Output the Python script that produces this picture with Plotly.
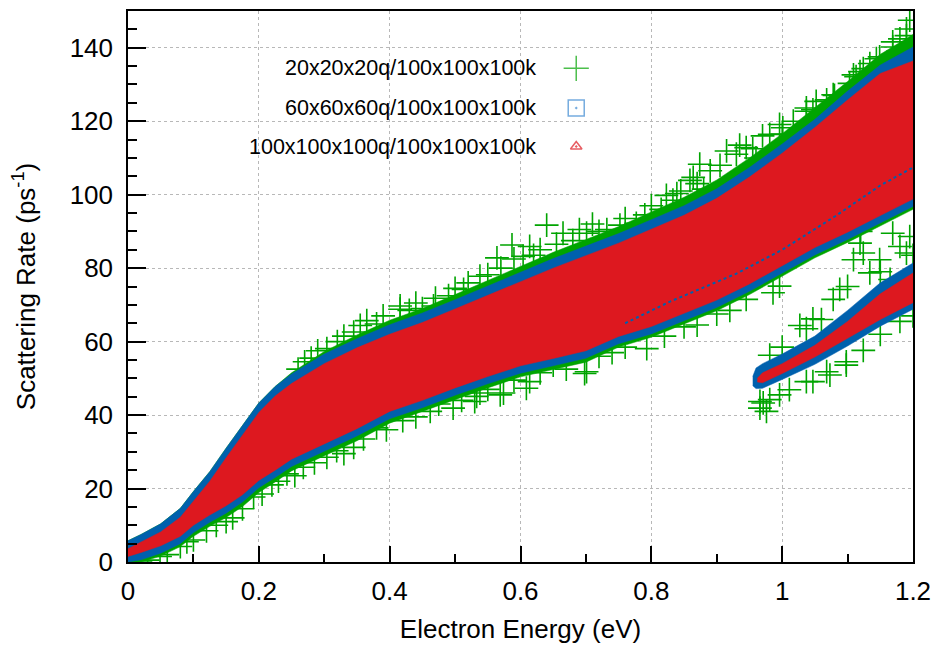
import plotly.graph_objects as go

# main branch envelopes
x_main = [0.0, 0.02, 0.05, 0.08, 0.1, 0.125, 0.15, 0.175, 0.2, 0.225, 0.25, 0.3, 0.35, 0.4,
          0.45, 0.5, 0.55, 0.6, 0.65, 0.7, 0.75, 0.8, 0.85, 0.9, 0.95, 1.0, 1.05, 1.1, 1.15, 1.2]
green_up = [5.8, 7.5, 10.4, 14.6, 19.2, 24.6, 31.0, 37.2, 43.3, 47.8, 51.5, 57.3, 61.8, 65.8,
            69.0, 72.8, 76.6, 80.6, 84.3, 87.8, 91.3, 95.3, 99.3, 104.0, 110.0, 116.6, 123.6, 130.8, 138.2, 143.6]
blue_up = [5.8, 7.5, 10.4, 14.6, 19.2, 24.6, 31.0, 37.2, 43.3, 47.8, 51.2, 56.6, 60.8, 64.6,
           67.8, 71.4, 75.2, 79.0, 82.6, 86.0, 89.4, 93.2, 97.0, 101.6, 107.4, 113.8, 120.5, 128.2, 135.3, 140.2]
red_up = [3.6, 5.4, 8.2, 12.2, 16.7, 22.0, 28.4, 34.6, 40.7, 45.2, 48.6, 54.0, 58.3, 62.0,
          65.2, 68.9, 72.6, 76.4, 80.0, 83.4, 86.8, 90.6, 94.4, 99.0, 104.8, 111.3, 118.3, 125.8, 133.0, 136.4]
red_lo = [1.5, 2.6, 4.4, 7.0, 10.0, 12.8, 15.3, 18.3, 22.2, 25.0, 28.0, 32.2, 36.3, 41.0,
          44.0, 47.4, 50.5, 53.4, 55.4, 57.5, 61.4, 64.1, 67.8, 71.3, 75.7, 80.7, 85.6, 89.8, 94.3, 98.8]
blue_lo = [0.0, 0.6, 2.4, 5.0, 8.0, 10.8, 13.3, 16.3, 20.2, 23.0, 26.0, 30.2, 34.3, 39.0,
           42.0, 45.4, 48.5, 51.4, 53.4, 55.5, 59.4, 62.1, 65.8, 69.3, 73.7, 78.7, 83.6, 87.8, 92.3, 96.8]
green_lo = [0.0, 0.0, 1.6, 4.2, 7.0, 9.7, 12.1, 15.1, 18.9, 21.8, 24.8, 29.0, 33.0, 37.8,
            40.8, 44.2, 47.4, 50.4, 52.4, 54.4, 58.5, 61.2, 64.9, 68.4, 72.8, 77.8, 82.8, 87.0, 91.5, 96.0]

# second (upper-energy) branch
x_b2 = [0.955, 0.96, 0.97, 1.0, 1.05, 1.1, 1.15, 1.2]
blue_up2 = [50.5, 52.8, 54.0, 56.6, 61.5, 68.5, 76.0, 81.4]
blue_lo2 = [48.0, 47.2, 47.3, 49.7, 53.8, 58.8, 64.2, 68.8]
x_b2r = [0.962, 0.97, 1.0, 1.05, 1.1, 1.15, 1.2]
red_up2 = [50.0, 51.5, 54.0, 59.0, 65.5, 73.0, 78.7]
red_lo2 = [49.0, 48.8, 51.3, 55.8, 60.8, 66.0, 70.6]

# faint seam of blue points inside the red band
seam_x = [0.76, 0.83, 0.93, 1.0, 1.08, 1.15, 1.2]
seam_y = [65.0, 71.0, 78.5, 85.0, 94.0, 102.5, 107.4]

# stray 20x20x20q points: above the main band
up_x = [0.26, 0.27, 0.28, 0.29, 0.304, 0.32, 0.33, 0.345, 0.355, 0.365, 0.38, 0.39, 0.416, 0.416,
        0.43, 0.44, 0.45, 0.467, 0.47, 0.49, 0.50, 0.513, 0.52, 0.538, 0.55, 0.564, 0.57, 0.587,
        0.59, 0.604, 0.614, 0.62, 0.63, 0.640, 0.655, 0.665, 0.68, 0.69, 0.701, 0.71, 0.72, 0.732,
        0.752, 0.76, 0.777, 0.79, 0.80, 0.815, 0.823, 0.833, 0.839, 0.845, 0.859, 0.864, 0.87,
        0.874, 0.88, 0.89, 0.905, 0.915, 0.930, 0.935, 0.945, 0.955, 0.96, 0.97, 0.981, 0.996,
        1.0, 1.001, 1.017, 1.037, 1.037, 1.047, 1.052, 1.068, 1.078, 1.08, 1.103, 1.109, 1.113,
        1.119, 1.124, 1.134, 1.144, 1.149, 1.16, 1.169, 1.169, 1.18, 1.19, 1.19, 1.195]
up_y = [52.5, 54.5, 55.5, 57.5, 58.1, 60.0, 61.5, 62.6, 64.4, 65.7, 64.8, 67.0, 68.8, 69.7,
        68.5, 70.5, 69.0, 69.7, 71.8, 72.5, 74.5, 74.2, 76.0, 77.8, 78.2, 82.8, 80.0, 86.3,
        82.5, 83.2, 85.9, 83.5, 85.0, 91.7, 86.5, 89.5, 87.5, 90.5, 89.5, 92.0, 90.0, 90.5,
        91.7, 93.5, 92.2, 94.5, 97.0, 96.0, 99.8, 98.5, 100.3, 101.0, 103.9, 104.7, 103.0,
        108.3, 101.5, 106.5, 108.0, 111.9, 111.0, 113.5, 112.8, 112.5, 110.0, 116.0, 116.4, 119.1,
        116.5, 118.2, 120.0, 122.7, 123.6, 123.1, 125.4, 125.8, 127.2, 127.0, 130.3, 132.6, 132.1,
        133.5, 134.3, 135.7, 137.0, 137.5, 136.0, 140.2, 141.6, 142.4, 143.3, 145.1, 147.5]

# below the main band
lo_x = [0.019, 0.03, 0.049, 0.06, 0.08, 0.09, 0.10, 0.12, 0.135, 0.15, 0.16, 0.175, 0.192,
        0.205, 0.22, 0.23, 0.243, 0.255, 0.268, 0.285, 0.304, 0.319, 0.33, 0.345, 0.36, 0.380,
        0.395, 0.42, 0.44, 0.462, 0.475, 0.497, 0.51, 0.530, 0.533, 0.538, 0.55, 0.569, 0.574,
        0.59, 0.609, 0.614, 0.63, 0.650, 0.67, 0.698, 0.701, 0.72, 0.74, 0.76, 0.793, 0.82,
        0.85, 0.87, 0.9, 0.92, 0.945, 0.986, 0.996]
lo_y = [0.0, 0.5, 1.5, 2.0, 4.2, 5.5, 6.0, 8.5, 10.0, 11.0, 12.0, 14.5, 17.7,
        18.5, 21.0, 22.0, 24.0, 23.5, 25.8, 27.0, 28.5, 30.3, 29.5, 31.2, 33.5, 36.5,
        36.0, 38.5, 39.5, 41.0, 43.0, 41.9, 44.0, 43.7, 45.1, 46.0, 47.0, 45.5, 46.0,
        49.5, 47.3, 49.1, 51.5, 53.6, 52.5, 51.3, 51.8, 56.0, 57.0, 58.5, 58.1, 61.5,
        64.0, 64.5, 67.5, 68.5, 71.5, 73.3, 75.1]

# around the second branch
b2_x = [1.027, 1.047, 1.078, 1.088, 1.109, 1.119, 1.124, 1.134, 1.149, 1.165, 1.169, 1.18,
        1.19, 1.195, 0.981, 1.037, 1.0, 1.06, 1.1, 1.15, 1.2, 1.12,
        0.966, 0.971, 0.976, 0.966, 0.981, 0.996, 1.011, 1.037, 1.047, 1.068, 1.073, 1.098,
        1.098, 1.124, 1.15, 1.18, 1.2]
b2_y = [64.4, 66.2, 71.5, 74.2, 82.3, 86.8, 84.1, 78.7, 82.3, 76.9, 89.5, 85.9,
        84.1, 88.6, 56.3, 63.5, 58.5, 66.0, 75.0, 79.0, 83.5, 90.0,
        41.9, 43.3, 41.0, 43.7, 44.2, 45.5, 46.9, 49.1, 49.1, 51.8, 50.9, 53.6,
        54.5, 57.6, 62.0, 65.5, 67.0]

labels = ["20x20x20q/100x100x100k", "60x60x60q/100x100x100k", "100x100x100q/100x100x100k"]

GREEN = "#00a400"
BLUE = "#0060ad"
RED = "#dd181f"
FONT = "Liberation Sans, Arial, sans-serif"


def band(xs, up, lo, color):
    return go.Scatter(x=xs + xs[::-1], y=up + lo[::-1], fill="toself", mode="lines",
                      line=dict(width=0.5, color=color), fillcolor=color,
                      hoverinfo="skip", showlegend=False)


fig = go.Figure()

fig.add_trace(go.Scatter(x=up_x + lo_x + b2_x, y=up_y + lo_y + b2_y, mode="markers", showlegend=False,
                         marker=dict(symbol="cross-thin", size=17,
                                     line=dict(color=GREEN, width=1.6))))
fig.add_trace(band(x_main, green_up, green_lo, GREEN))
fig.add_trace(band(x_main, blue_up, blue_lo, BLUE))
fig.add_trace(band(x_b2, blue_up2, blue_lo2, BLUE))
fig.add_trace(band(x_main, red_up, red_lo, RED))
fig.add_trace(band(x_b2r, red_up2, red_lo2, RED))
fig.add_trace(go.Scatter(x=seam_x, y=seam_y, mode="lines", showlegend=False,
                         line=dict(color=BLUE, width=2, dash="dot")))

# hand-made key: text right-aligned, symbol to the right
key_y = [0.896, 0.824, 0.754]
fig.add_trace(go.Scatter(x=[0.571] * 3, y=key_y, xaxis="x2", yaxis="y2", mode="markers",
                         showlegend=False, hoverinfo="skip",
                         marker=dict(symbol=["cross-thin", "square-open-dot", "triangle-up-open-dot"],
                                     size=[18, 16, 10], color=[GREEN, "#3a88d0", RED],
                                     line=dict(color=[GREEN, "#3a88d0", RED], width=1.5))))
for lab, ky in zip(labels, key_y):
    fig.add_annotation(text=lab, x=0.522, y=ky, xref="paper", yref="paper",
                       xanchor="right", yanchor="middle", showarrow=False,
                       font=dict(family=FONT, size=21.5, color="black"))

axis_common = dict(showline=True, linecolor="black", linewidth=1.5, mirror=True,
                   ticks="inside", tickcolor="black", tickwidth=1.5,
                   showgrid=True, gridcolor="#b8b8b8", gridwidth=1, griddash="dot",
                   zeroline=False, tickfont=dict(family=FONT, size=26, color="black"))

# the page body adds an 8px margin, so the figure is shifted a bit inside the window
fig.update_layout(
    width=929, height=636,
    margin=dict(l=120, r=24, t=1, b=78),
    paper_bgcolor="white", plot_bgcolor="white",
    font=dict(family=FONT, color="black"),
    xaxis=dict(range=[0, 1.2], dtick=0.2, ticklen=16, ticklabelstandoff=5,
               ticklabeloverflow="allow",
               minor=dict(dtick=0.1, ticklen=8, ticks="inside", tickcolor="black", tickwidth=1.5, showgrid=False),
               title=dict(text="Electron Energy (eV)", font=dict(family=FONT, size=26), standoff=19),
               **axis_common),
    yaxis=dict(range=[0, 150], dtick=20, ticklen=18, ticklabelstandoff=8,
               minor=dict(dtick=5, ticklen=9, ticks="inside", tickcolor="black", tickwidth=1.5, showgrid=False),
               title=dict(text="Scattering Rate (ps<sup>-1</sup>)", font=dict(family=FONT, size=26), standoff=31),
               **axis_common),
    xaxis2=dict(overlaying="x", range=[0, 1], visible=False, fixedrange=True),
    yaxis2=dict(overlaying="y", range=[0, 1], visible=False, fixedrange=True),
)

fig.write_html("out.html")
